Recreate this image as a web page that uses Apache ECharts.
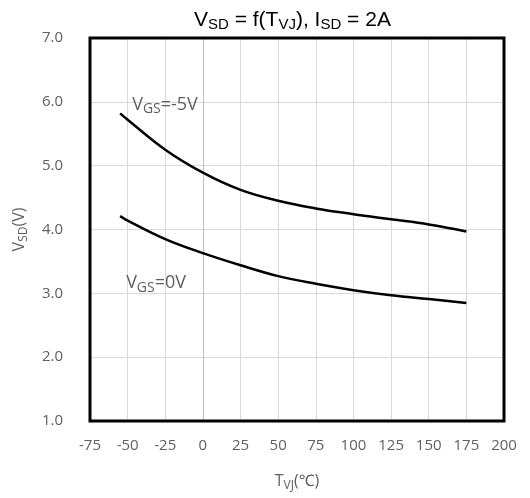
<!DOCTYPE html>
<html>
<head>
<meta charset="utf-8">
<script src="https://cdn.jsdelivr.net/npm/echarts@6/dist/echarts.min.js"></script>
<style>
  html, body { margin: 0; padding: 0; background: #fff; }
  #chart { width: 530px; height: 498px; }
</style>
</head>
<body>
<div id="chart"></div>
<script>
// temperatures (°C) and V_SD (V)
var tempVJ = [-55, -50, -25, 0, 25, 50, 75, 100, 125, 150, 175]
var vsdGsMinus5 = [5.82, 5.72, 5.25, 4.89, 4.62, 4.45, 4.33, 4.24, 4.16, 4.08, 3.97]
var vsdGs0 = [4.21, 4.14, 3.85, 3.63, 3.44, 3.27, 3.15, 3.05, 2.97, 2.91, 2.85]
var xTicks = { min: -75, max: 200, step: 25 }
var yTicks = { min: 1, max: 7, step: 1 }

var labelFont = '"Open Sans", "Noto Sans", sans-serif'
var titleFont = '"Liberation Sans", Arial, sans-serif'
var grey = '#5f5f5f'

function pairs (xs, ys) {
  return xs.map(function (x, i) { return [x, ys[i]] })
}

// rich styles for V with a subscript (GS, SD, VJ)
function subRich (size, subSize) {
  return {
    v: { fontSize: size, lineHeight: size + 5, color: grey, fontFamily: labelFont },
    s: { fontSize: subSize, lineHeight: subSize, color: grey, fontFamily: labelFont, verticalAlign: 'bottom' }
  }
}

var myChart = echarts.init(document.getElementById('chart'))

var option = {
  animation: false,
  title: {
    text: '{a|V}{b|SD}{a| = f(T}{b|VJ}{a|), I}{b|SD}{a| = 2A}',
    left: 189,
    top: 3,
    textStyle: {
      rich: {
        a: { fontSize: 21, lineHeight: 24, color: '#000', fontWeight: 'normal', fontFamily: titleFont },
        b: { fontSize: 15, lineHeight: 22, color: '#000', fontWeight: 'normal', fontFamily: titleFont, verticalAlign: 'bottom' }
      }
    }
  },
  grid: {
    left: 90,
    right: 26,
    top: 38,
    bottom: 77,
    show: true,
    borderColor: '#000',
    borderWidth: 3,
    z: 5
  },
  xAxis: {
    type: 'value',
    min: xTicks.min,
    max: xTicks.max,
    interval: xTicks.step,
    name: '{v|T}{s|VJ}{v|(℃)}',
    nameLocation: 'middle',
    nameGap: 50,
    nameTextStyle: { rich: subRich(16, 12) },
    axisLine: { show: false },
    axisTick: { show: false },
    axisLabel: { color: grey, fontSize: 15, fontFamily: labelFont, margin: 17 },
    splitLine: { show: true, lineStyle: { color: '#d9d9d9', width: 1 } }
  },
  yAxis: {
    type: 'value',
    min: yTicks.min,
    max: yTicks.max,
    interval: yTicks.step,
    name: '{v|V}{s|SD}{v|(V)}',
    nameLocation: 'middle',
    nameGap: 60,
    nameRotate: 90,
    nameTextStyle: { rich: subRich(16, 12) },
    axisLine: { show: false },
    axisTick: { show: false },
    axisLabel: {
      color: grey,
      fontSize: 15,
      fontFamily: labelFont,
      margin: 27,
      formatter: function (v) { return v.toFixed(1) }
    },
    splitLine: { show: true, lineStyle: { color: '#d9d9d9', width: 1 } }
  },
  series: [
    {
      name: 'VGS=-5V',
      type: 'line',
      smooth: 0.4,
      symbol: 'none',
      data: pairs(tempVJ, vsdGsMinus5),
      lineStyle: { color: '#000', width: 2.5 },
      z: 3,
      markLine: {
        silent: true,
        symbol: 'none',
        label: { show: false },
        lineStyle: { color: '#bfbfbf', width: 1, type: 'solid' },
        data: [{ xAxis: 0 }],
        z: 1
      },
      markPoint: {
        symbol: 'circle',
        symbolSize: 0,
        label: {
          show: true,
          position: 'right',
          distance: 0,
          formatter: '{v|V}{s|GS}{v|=-5V}',
          rich: subRich(18, 14)
        },
        data: [{ coord: [-47, 5.96] }]
      }
    },
    {
      name: 'VGS=0V',
      type: 'line',
      smooth: 0.4,
      symbol: 'none',
      data: pairs(tempVJ, vsdGs0),
      lineStyle: { color: '#000', width: 2.5 },
      z: 3,
      markPoint: {
        symbol: 'circle',
        symbolSize: 0,
        label: {
          show: true,
          position: 'right',
          distance: 0,
          formatter: '{v|V}{s|GS}{v|=0V}',
          rich: subRich(18, 14)
        },
        data: [{ coord: [-51, 3.16] }]
      }
    }
  ]
}
myChart.setOption(option)
</script>
</body>
</html>
